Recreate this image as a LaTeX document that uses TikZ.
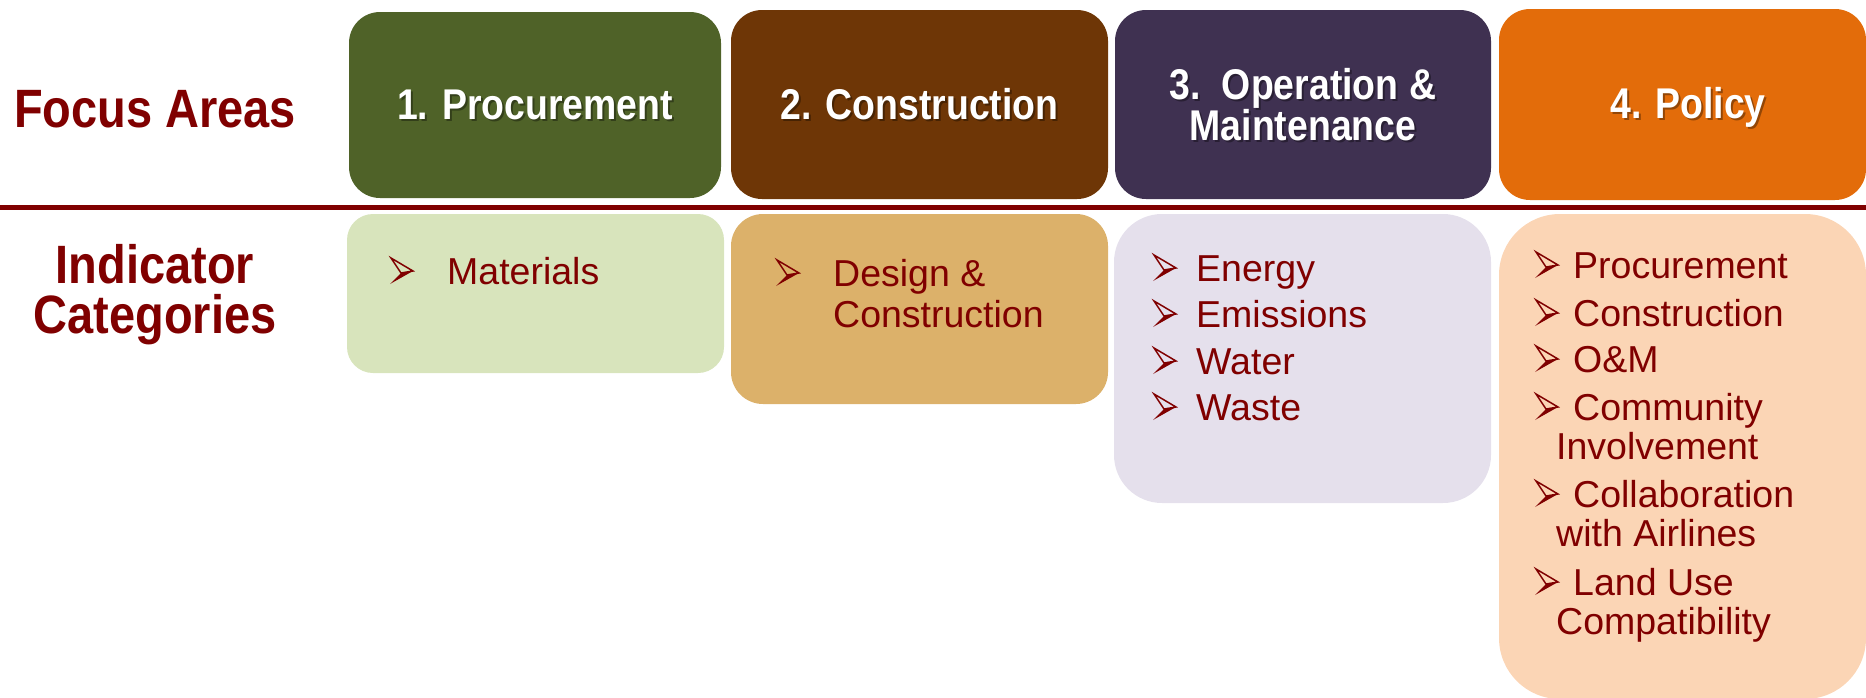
\documentclass[tikz,border=0pt]{standalone}
\usepackage{fontspec}
\setmainfont{Liberation Sans}
\newfontfamily\hfont[FakeStretch=0.87]{Liberation Sans}
\definecolor{txtred}{RGB}{128,0,0}
\definecolor{gA}{RGB}{79,98,40}
\definecolor{bA}{RGB}{110,54,6}
\definecolor{pA}{RGB}{63,49,81}
\definecolor{oA}{RGB}{227,108,10}
\definecolor{gB}{RGB}{216,228,188}
\definecolor{bB}{RGB}{220,177,106}
\definecolor{pB}{RGB}{229,224,236}
\definecolor{oB}{RGB}{251,213,181}
\begin{document}
\begin{tikzpicture}[x=1pt,y=-1pt,
  panel/.style={inner sep=0pt, outer sep=0pt, draw=none},
  hdr/.style={font=\hfont\bfseries\fontsize{43}{43}\selectfont, text=white, anchor=base, inner sep=0pt},
  hsh/.style={font=\hfont\bfseries\fontsize{43}{43}\selectfont, text=black, opacity=0.35, anchor=base, inner sep=0pt},
  lbl/.style={font=\hfont\bfseries\fontsize{54}{54}\selectfont, text=txtred, anchor=base, inner sep=0pt},
  itm/.style={font=\fontsize{37.5}{37.5}\selectfont, text=txtred, anchor=base west, inner sep=0pt},
  barrow/.pic={
    \fill[txtred] (11,15) -- (23,13) -- (0,26) -- cycle;
    \draw[txtred, line width=1.5pt, line join=miter] (1,0) -- (23,13) -- (11,15) -- cycle;
  }
]
\useasboundingbox (0,0) rectangle (1866,697);

% header panels
\node[panel, fill=gA, minimum width=372pt, minimum height=186pt, rounded corners=31pt] (h1) at (535,105) {};
\node[panel, fill=bA, minimum width=377pt, minimum height=189pt, rounded corners=31pt] (h2) at (919.5,104.5) {};
\node[panel, fill=pA, minimum width=376pt, minimum height=189pt, rounded corners=31pt] (h3) at (1303,104.5) {};
\node[panel, fill=oA, minimum width=367pt, minimum height=191pt, rounded corners=31pt] (h4) at (1682.5,104.5) {};

% lower panels
\node[panel, fill=gB, minimum width=377pt, minimum height=159pt, rounded corners=26pt] (l1) at (535.5,293.5) {};
\node[panel, fill=bB, minimum width=377pt, minimum height=190pt, rounded corners=32pt] (l2) at (919.5,309) {};
\node[panel, fill=pB, minimum width=377pt, minimum height=289pt, rounded corners=48pt] (l3) at (1302.5,358.5) {};
\node[panel, fill=oB, minimum width=367pt, minimum height=485pt, rounded corners=61pt] (l4) at (1682.5,456.5) {};

% separator
\coordinate (sepL) at (0,207.5);
\coordinate (sepR) at (1866,207.5);
\draw[txtred, line width=5.5pt] (sepL) -- (sepR);

% left labels
\node[lbl] (fa) at (155,127) {Focus Areas};
\node[lbl] (ic1) at (155,283) {Indicator};
\node[lbl] (ic2) at (155,333) {Categories};

% header texts (shadow + text)
\node[hsh] (t1s) at (537,121) {1. Procurement};
\node[hdr] (t1) at (535,119) {1. Procurement};
\node[hsh] (t2s) at (921.5,121) {2. Construction};
\node[hdr] (t2) at (919.5,119) {2. Construction};
\node[hsh] (t3as) at (1305,101) {3.\ \ Operation \&};
\node[hdr] (t3a) at (1303,99) {3.\ \ Operation \&};
\node[hsh] (t3bs) at (1305,142) {Maintenance};
\node[hdr] (t3b) at (1303,140) {Maintenance};
\node[hsh] (t4s) at (1690,120) {4. Policy};
\node[hdr] (t4) at (1688,118) {4. Policy};

% box 1
\pic at (390,258) {barrow};
\node[itm] (m1) at (447,284) {Materials};

% box 2
\pic at (776,260) {barrow};
\node[itm] (d1) at (833,286) {Design \&};
\node[itm] (d2) at (833,327) {Construction};

% box 3
\pic at (1153,255) {barrow};
\node[itm] (e1) at (1196,281) {Energy};
\pic at (1153,301) {barrow};
\node[itm] (e2) at (1196,327) {Emissions};
\pic at (1153,348) {barrow};
\node[itm] (e3) at (1196,374) {Water};
\pic at (1153,394) {barrow};
\node[itm] (e4) at (1196,420) {Waste};

% box 4
\pic at (1535,252) {barrow};
\node[itm] (p1) at (1573,278) {Procurement};
\pic at (1535,300) {barrow};
\node[itm] (p2) at (1573,326) {Construction};
\pic at (1535,346) {barrow};
\node[itm] (p3) at (1573,372) {O\&M};
\pic at (1535,394) {barrow};
\node[itm] (p4) at (1573,420) {Community};
\node[itm] (p4b) at (1556,459) {Involvement};
\pic at (1535,481) {barrow};
\node[itm] (p5) at (1573,507) {Collaboration};
\node[itm] (p5b) at (1556,546) {with Airlines};
\pic at (1535,569) {barrow};
\node[itm] (p6) at (1573,595) {Land Use};
\node[itm] (p6b) at (1556,634) {Compatibility};
\end{tikzpicture}
\end{document}
